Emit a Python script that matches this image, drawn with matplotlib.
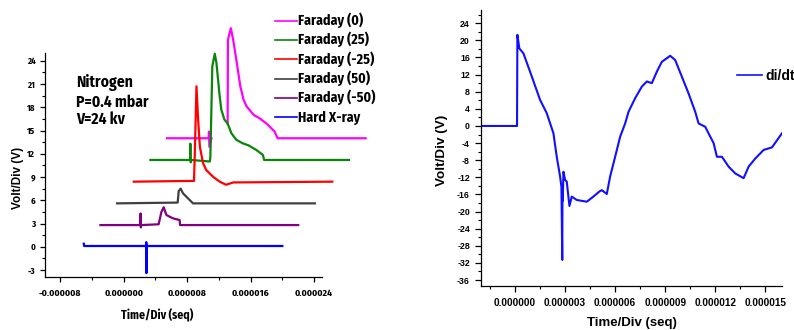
import numpy as np
import matplotlib
matplotlib.use("Agg")
import matplotlib.pyplot as plt
from matplotlib import font_manager
from matplotlib.lines import Line2D
from matplotlib.ticker import MultipleLocator, FuncFormatter

# ---------------- data (times in microseconds, values in volts) ----------------
LEGEND_LEFT = ["Faraday (0)", "Faraday (25)", "Faraday (-25)", "Faraday (50)",
               "Faraday (-50)", "Hard X-ray"]
COLORS_LEFT = ["#ff00ff", "#0a850a", "#ff0000", "#404040", "#800080", "#0000ff"]

F0_T = [5.46, 10.7, 10.75, 10.8, 11.06, np.nan, 13.1, 13.14, 13.5, 13.8, 14.26, 14.7,
        15.1, 15.5, 16.4, 17.1, 18.0, 19.0, 19.4, 30.5]
F0_V = [14.0, 14.0, 14.85, 12.9, 14.0, np.nan, 15.9, 26.7, 28.2, 26.7, 23.7, 20.7,
        19.0, 18.1, 17.0, 16.6, 15.9, 14.9, 14.0, 14.0]

F25_T = [3.36, 8.35, 8.4, 8.45, 8.5, 10.85, 10.92, 11.17, 11.48, 11.69, 11.9, 12.1,
         12.3, 12.7, 13.1, 13.57, 14.2, 15.0, 15.7, 16.7, 17.55, 17.7, 28.4]
F25_V = [11.2, 11.2, 13.3, 10.9, 11.2, 11.0, 11.5, 23.3, 24.9, 23.7, 21.5, 19.4,
         17.7, 16.4, 15.9, 14.65, 13.8, 13.35, 13.1, 12.5, 11.85, 11.2, 11.2]

FM25_T = [1.26, 8.86, 8.96, 9.17, 9.38, 9.6, 10.0, 10.4, 11.3, 12.1, 12.9, 13.8, 26.3]
FM25_V = [8.4, 8.5, 12.0, 20.7, 16.4, 12.9, 10.8, 9.9, 9.0, 8.4, 8.0, 8.3, 8.4]

F50_T = [-0.84, 6.8, 6.93, 7.18, 7.47, 8.1, 8.73, 24.1]
F50_V = [5.6, 5.7, 7.2, 7.5, 6.9, 6.25, 5.6, 5.6]

FM50_T = [-2.94, 2.08, 2.12, 2.16, 2.2, 4.4, 4.75, 5.04, 5.38, 6.2, 7.05, 7.1, 22.0]
FM50_V = [2.8, 2.8, 4.3, 2.5, 2.8, 2.9, 4.5, 5.1, 4.1, 3.67, 3.45, 2.8, 2.8]

HXR_T = [-5.04, -5.0, 2.80, 2.84, 2.86, 2.88, 2.92, 20.0]
HXR_V = [0.4, 0.1, 0.1, 0.6, -3.4, 0.3, 0.1, 0.1]

SERIES_LEFT = [(F0_T, F0_V), (F25_T, F25_V), (FM25_T, FM25_V), (F50_T, F50_V),
               (FM50_T, FM50_V), (HXR_T, HXR_V)]

ANNOTATION_LINES = ["Nitrogen", "P=0.4 mbar", "V=24 kv"]

LEFT_XTICKS = [-8e-6, 0.0, 8e-6, 16e-6, 24e-6]
LEFT_YTICKS = [-3, 0, 3, 6, 9, 12, 15, 18, 21, 24]

DIDT_T = [-2.04, 0.12, 0.14, 0.26, 0.5, 0.9, 1.5, 1.9, 2.3, 2.5, 2.7, 2.78, 2.83, 2.845,
          2.86, 2.9, 3.0, 3.1, 3.26, 3.4, 3.7, 4.3, 4.7, 5.06, 5.2, 5.5, 5.7, 6.0, 6.3,
          6.6, 6.8, 7.2, 7.6, 7.9, 8.2, 8.5, 8.8, 9.3, 9.6, 10.0, 10.4, 10.8, 11.0,
          11.4, 11.7, 11.9, 12.1, 12.4, 12.8, 13.2, 13.7, 14.0, 14.4, 14.9, 15.4, 16.0]
DIDT_V = [0.0, 0.0, 21.3, 18.1, 17.0, 12.7, 6.1, 3.0, -1.7, -7.2, -11.8, -14.2, -31.3,
          -14.0, -17.5, -10.7, -12.6, -13.0, -18.7, -16.5, -17.3, -17.7, -16.5, -15.3,
          -15.0, -15.9, -11.8, -7.2, -2.5, 0.6, 3.3, 6.5, 9.2, 10.4, 10.0, 12.7, 15.0,
          16.4, 15.4, 11.5, 7.6, 3.3, 0.6, -0.2, -2.5, -4.0, -7.2, -7.2, -9.5, -11.1,
          -12.2, -9.5, -7.6, -5.6, -5.0, -1.7]
LEGEND_RIGHT = "di/dt"
RIGHT_XTICKS = [0.0, 3e-6, 6e-6, 9e-6, 12e-6, 15e-6]
RIGHT_YTICKS = list(range(-36, 25, 4))

# ---------------- fonts ----------------
plt.rcParams['axes.unicode_minus'] = False
fonts = font_manager.fontManager.ttflist
names = {f.name for f in fonts}
REG = "Liberation Sans" if "Liberation Sans" in names else "DejaVu Sans"
NARROW = REG
for cand in ["Liberation Sans Narrow", "Archivo Narrow", "Fira Sans Condensed",
             "IBM Plex Sans Condensed", "Encode Sans Condensed", "Asap Condensed",
             "Barlow Semi Condensed"]:
    if any(f.name == cand and isinstance(f.weight, int) and f.weight >= 600 for f in fonts) \
            or any(f.name == cand and str(f.weight).lower() == 'bold' for f in fonts):
        NARROW = cand
        break
plt.rcParams['font.family'] = [REG, 'DejaVu Sans']

W, H = 794, 330
fig = plt.figure(figsize=(W / 100, H / 100), dpi=100)


def fx(x):
    return x / W


def fy(y):
    return 1 - y / H


def style_axes(ax):
    for s in ("top", "right"):
        ax.spines[s].set_visible(False)
    for s in ("left", "bottom"):
        ax.spines[s].set_linewidth(0.9)


fmt6 = FuncFormatter(lambda v, p: f"{v:.6f}")
fmti = FuncFormatter(lambda v, p: f"{int(round(v))}")

# ---------------- left panel ----------------
axL = fig.add_axes([fx(45), fy(277), fx(322 - 45), (277 - 53) / H])
style_axes(axL)
for (t, v), c in zip(SERIES_LEFT, COLORS_LEFT):
    axL.plot(np.array(t) * 1e-6, v, color=c, lw=1.6, clip_on=False)
axL.set_xlim(-9.93e-6, 25.0e-6)
axL.set_ylim(-3.9, 25.0)
axL.set_xticks(LEFT_XTICKS)
axL.set_yticks(LEFT_YTICKS)
axL.xaxis.set_minor_locator(MultipleLocator(4e-6))
axL.yaxis.set_minor_locator(MultipleLocator(1.5))
axL.xaxis.set_major_formatter(fmt6)
axL.yaxis.set_major_formatter(fmti)
axL.tick_params(axis='both', which='major', direction='out', length=3.5, width=0.9)
axL.tick_params(axis='both', which='minor', direction='out', length=2, width=0.8)
axL.tick_params(axis='x', pad=5)
axL.tick_params(axis='y', pad=3.5)
for lab in axL.get_xticklabels():
    lab.set_fontfamily(NARROW); lab.set_fontweight('bold'); lab.set_fontsize(7.0)
for lab in axL.get_yticklabels():
    lab.set_fontfamily(NARROW); lab.set_fontweight('bold'); lab.set_fontsize(6.4)

fig.text(fx(157.5), fy(315), "Time/Div (seq)", ha='center', va='center',
         fontsize=8.5, fontweight='bold', family=NARROW)
fig.text(fx(18), fy(178), "Volt/Div (V)", ha='center', va='center', rotation=90,
         fontsize=8.5, fontweight='bold')

for i, line in enumerate(ANNOTATION_LINES):
    fig.text(fx(76), fy([87.3, 106.7, 124.0][i]), line, ha='left', va='baseline',
             fontsize=11.2, fontweight='bold', family=NARROW)

for i, (lab, c) in enumerate(zip(LEGEND_LEFT, COLORS_LEFT)):
    yy = 20.7 + i * 19.33
    fig.add_artist(Line2D([fx(275), fx(296.7)], [fy(yy), fy(yy)], color=c, lw=1.2))
    fig.text(fx(297.5), fy(yy + 4.3), lab, ha='left', va='baseline',
             fontsize=10.0, fontweight='bold', family=NARROW)

# ---------------- right panel ----------------
axR = fig.add_axes([fx(481), fy(286), fx(782 - 481), (286 - 10) / H])
style_axes(axR)
axR.plot(np.array(DIDT_T) * 1e-6, DIDT_V, color="#1010ff", lw=1.5)
axR.set_xlim(-2.04e-6, 16.0e-6)
axR.set_ylim(-37.4, 27.1)
axR.set_xticks(RIGHT_XTICKS)
axR.set_yticks(RIGHT_YTICKS)
axR.xaxis.set_minor_locator(MultipleLocator(1.5e-6))
axR.yaxis.set_minor_locator(MultipleLocator(2))
axR.xaxis.set_major_formatter(fmt6)
axR.yaxis.set_major_formatter(fmti)
axR.tick_params(axis='both', which='major', direction='out', length=4, width=0.9)
axR.tick_params(axis='both', which='minor', direction='out', length=2.2, width=0.8)
axR.tick_params(axis='x', pad=5, labelsize=7.2)
axR.tick_params(axis='y', pad=4, labelsize=6.3)
for lab in axR.get_xticklabels() + axR.get_yticklabels():
    lab.set_fontweight('bold')

fig.text(fx(632), fy(323.3), "Time/Div (seq)", ha='center', va='center',
         fontsize=9.5, fontweight='bold')
fig.text(fx(441.7), fy(150.8), "Volt/Div (V)", ha='center', va='center', rotation=90,
         fontsize=9.7, fontweight='bold')

fig.add_artist(Line2D([fx(736.7), fx(761.7)], [fy(75), fy(75)], color="#1010ff", lw=1.2))
fig.text(fx(765), fy(80), LEGEND_RIGHT, ha='left', va='baseline',
         fontsize=10, fontweight='bold')

fig.savefig("out.png", dpi=100)
